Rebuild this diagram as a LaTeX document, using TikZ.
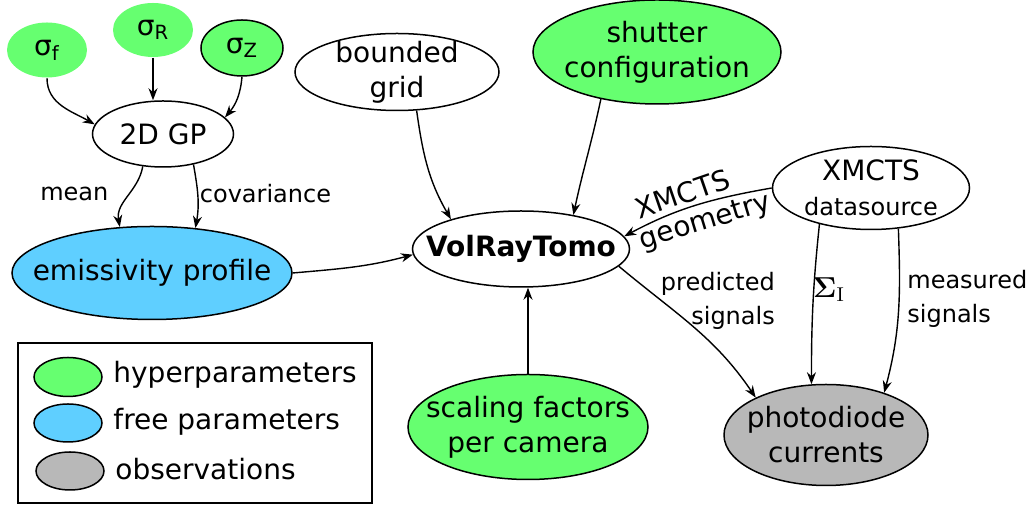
\documentclass[tikz,border=0pt]{standalone}
\usepackage[no-math]{fontspec}
\setmainfont{DejaVu Sans}
\usetikzlibrary{shapes.geometric,arrows.meta}
\definecolor{hiper}{RGB}{102,255,112}
\definecolor{libre}{RGB}{95,207,255}
\definecolor{observ}{RGB}{184,184,184}
\begin{document}
\begin{tikzpicture}[x=0.5pt,y=0.5pt,
    font=\fontsize{14}{17.5}\selectfont,
    nodo/.style={ellipse,draw,line width=0.75pt,inner sep=0pt},
    texto/.style={label={[align=center,inner sep=0pt]center:#1}},
    flecha/.style={-{Stealth[length=6pt,width=4.5pt]},line width=0.7pt},
    etiq/.style={font=\fontsize{12}{17}\selectfont,align=center}]
    \useasboundingbox (0,0) rectangle (1035,-506);
    % Hiperparametros del GP
    \node[nodo,draw=none,fill=hiper,minimum width=40pt,minimum height=27.5pt,texto={σ\textsubscript{f}}] (sf) at (47,-50) {};
    \node[nodo,draw=none,fill=hiper,minimum width=40pt,minimum height=27pt,texto={σ\textsubscript{R}}] (sr) at (153,-30) {};
    \node[nodo,fill=hiper,minimum width=41pt,minimum height=28pt,texto={σ\textsubscript{Z}}] (sz) at (242,-48) {};
    \node[nodo,fill=white,minimum width=70.5pt,minimum height=33pt,texto={2D GP}] (gp) at (163,-134) {};
    \node[nodo,fill=libre,minimum width=140pt,minimum height=46.5pt,texto={emissivity profile}] (emis) at (152,-273) {};
    % Nodos centrales
    \node[nodo,fill=white,minimum width=102pt,minimum height=38.5pt,texto={bounded\\grid}] (grid) at (397,-72) {};
    \node[nodo,fill=hiper,minimum width=124pt,minimum height=52pt,texto={shutter\\configuration}] (shut) at (657,-52) {};
    \node[nodo,fill=white,minimum width=108.5pt,minimum height=38pt,texto={\bfseries VolRayTomo}] (vrt) at (521,-249) {};
    \node[nodo,fill=white,minimum width=98.5pt,minimum height=41.5pt,texto={XMCTS\\{\fontsize{12}{14}\selectfont datasource}}] (xm) at (871,-188) {};
    \node[nodo,fill=hiper,minimum width=120pt,minimum height=52.5pt,texto={scaling factors\\per camera}] (scal) at (528,-427) {};
    \node[nodo,fill=observ,minimum width=102pt,minimum height=50.5pt,texto={photodiode\\currents}] (pd) at (826,-435) {};
    % Flechas
    \draw[flecha] (sf.south) to[out=-90,in=150] (gp.172);
    \draw[flecha] (sr.south) -- (gp.north-|sr.south);
    \draw[flecha] (sz.south) to[out=-95,in=50] (gp.15);
    \draw[flecha] (gp.-122) to[out=-100,in=100] node[etiq,left,pos=0.45,xshift=-7pt] {mean} (emis.125);
    \draw[flecha] (gp.-45) to[out=-80,in=80] node[etiq,right,pos=0.45,xshift=-2.5pt] {covariance} (emis.46);
    \draw[flecha] (emis.east) to[out=5,in=195] (vrt.183);
    \draw[flecha] (grid.-63) to[out=-82,in=120] (vrt.157);
    \draw[flecha] (shut.-140) to[out=-102,in=78] (vrt.33);
    \draw[flecha] (xm.180) to[out=190,in=28]
        node[sloped,above,pos=0.56,inner sep=2pt] {XMCTS}
        node[sloped,below,pos=0.47,inner sep=3pt] {geometry} (vrt.7);
    \draw[flecha] (scal.north) -- (vrt.south-|scal.north);
    \draw[flecha] (vrt.-10) to[out=-40,in=124] node[etiq,above right,pos=0.4,align=right,xshift=-13pt,yshift=-10.5pt] {predicted\\signals} (pd.152);
    \draw[flecha] (xm.-145) to[out=-96,in=90] node[right,pos=0.4,xshift=-4pt] {$\mathbf{\Sigma}_\mathrm{I}$} (pd.106);
    \draw[flecha] (xm.-56) to[out=-88,in=75] node[etiq,right,pos=0.42,align=left,xshift=0.5pt] {measured\\signals} (pd.36);
    % Leyenda
    \node[draw,line width=0.75pt,minimum width=177pt,minimum height=80pt,inner sep=0pt] (ley) at (195,-423) {};
    \node[nodo,fill=hiper,minimum width=34pt,minimum height=19.5pt] (lh) at (68,-377) {};
    \node[nodo,fill=libre,minimum width=34pt,minimum height=19pt] (ll) at (68,-423) {};
    \node[nodo,fill=observ,minimum width=34pt,minimum height=19pt] (lo) at (70,-471) {};
    \node[right,inner sep=0pt] at (113,-375) {hyperparameters};
    \node[right,inner sep=0pt] at (113,-422) {free parameters};
    \node[right,inner sep=0pt] at (115,-469) {observations};
\end{tikzpicture}
\end{document}
